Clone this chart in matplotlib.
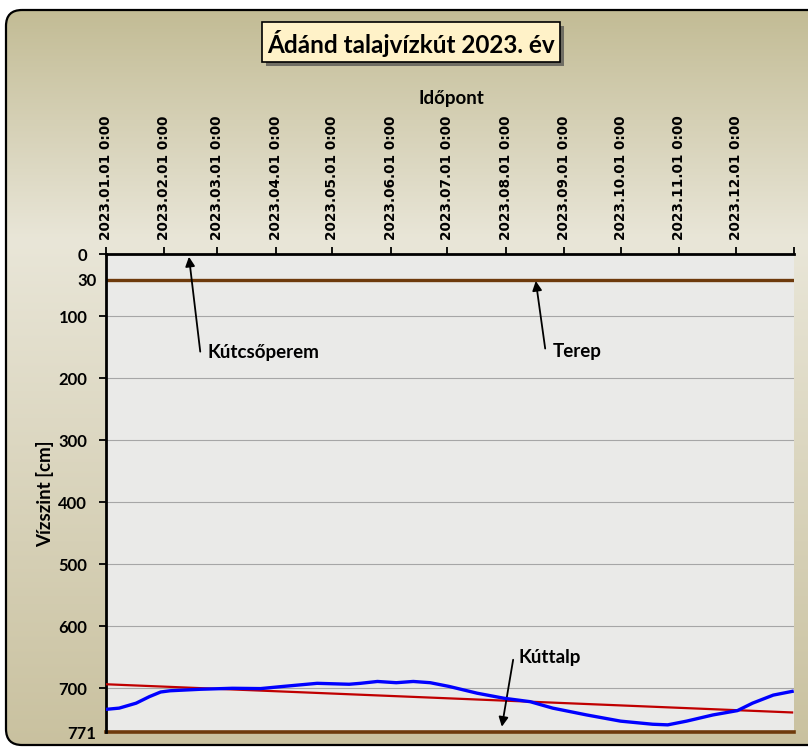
import matplotlib
matplotlib.use('Agg')
import matplotlib.pyplot as plt
import numpy as np
import pandas as pd
from matplotlib.colors import LinearSegmentedColormap
from matplotlib.patches import FancyBboxPatch, Rectangle

dates = ['2023-01-01', '2023-01-08', '2023-01-17', '2023-01-24', '2023-01-30',
         '2023-02-04', '2023-02-20', '2023-03-09', '2023-03-24', '2023-04-05',
         '2023-04-23', '2023-05-10', '2023-05-16', '2023-05-25', '2023-06-04',
         '2023-06-13', '2023-06-22', '2023-07-02', '2023-07-17', '2023-07-31',
         '2023-08-14', '2023-08-26', '2023-09-13', '2023-10-01', '2023-10-18',
         '2023-10-26', '2023-11-05', '2023-11-19', '2023-12-02', '2023-12-10',
         '2023-12-21', '2023-12-31']
water_level = [734, 732, 724, 713.5, 706,
               704, 701.6, 700, 700.5, 697,
               692, 693.5, 692, 689, 691,
               689, 691, 697, 708, 716,
               721.6, 732, 743, 753, 758,
               759, 753, 743, 736, 724,
               711, 705]

trend_dates = ['2023-01-01', '2023-12-31']
trend_level = [693.5, 739]

terep_level = 41
kuttalp_level = 771

month_ticks = list(pd.date_range('2023-01-01', '2023-12-01', freq='MS')) + [pd.Timestamp('2024-01-01')]
month_labels = [d.strftime('%Y.%m.%d') + ' 0:00' for d in month_ticks[:-1]] + ['']
y_ticks = [0, terep_level, 100, 200, 300, 400, 500, 600, 700, kuttalp_level]
y_labels = ['0', '30', '100', '200', '300', '400', '500', '600', '700', '771']

title = 'Ádánd talajvízkút 2023. év'
LABEL_FONT = ['Lato', 'DejaVu Sans']

fig = plt.figure(figsize=(8.08, 7.48), dpi=100)
fig.patch.set_facecolor('white')

# background panel with gradient
bg = fig.add_axes([0, 0, 1, 1], zorder=0)
bg.set_xlim(0, 808)
bg.set_ylim(748, 0)
bg.axis('off')
cmap = LinearSegmentedColormap.from_list(
    'panel', [(0, '#C1BA92'), (0.32, '#E9E6D8'), (1.0, '#C9C19F')])
grad = np.linspace(0, 1, 256).reshape(-1, 1)
im = bg.imshow(grad, cmap=cmap, extent=[0, 808, 748, 0], aspect='auto')
panel = FancyBboxPatch((6, 10), 830, 735, boxstyle='round,pad=0,rounding_size=16',
                       fc='none', ec='black', lw=1.6)
bg.add_patch(panel)
im.set_clip_path(panel)

# title box with shadow
bg.add_patch(Rectangle((266, 26), 298, 40, fc='#4a4a4a', ec='none', alpha=0.7))
bg.add_patch(Rectangle((262, 22), 298, 40, fc='#FFF2C8', ec='black', lw=1.2))
bg.text(411, 43, title, ha='center', va='center', fontsize=17.5, fontweight='bold',
        family=LABEL_FONT)

bg.text(451, 98, 'Időpont', ha='center', va='center', fontsize=13.5,
        fontweight='bold', family=LABEL_FONT)
bg.text(45, 494, 'Vízszint [cm]', ha='center', va='center', rotation=90,
        fontsize=13.5, fontweight='bold', family=LABEL_FONT)

ax = fig.add_axes([106 / 808, 1 - 732.3 / 748, 688 / 808, (732.3 - 254.3) / 748], zorder=1)
ax.set_facecolor('#EAEAE8')

x = pd.to_datetime(dates)
ax.plot(pd.to_datetime(trend_dates), trend_level, color='#C00000', lw=1.6, zorder=3)
ax.plot(x, water_level, color='#0000FF', lw=2.4, zorder=4)
ax.axhline(terep_level, color='#6E3A0C', lw=2.4, zorder=2)
ax.axhline(kuttalp_level, color='#6E3A0C', lw=2.6, zorder=2, clip_on=False)

ax.set_xlim(pd.Timestamp('2023-01-01'), pd.Timestamp('2024-01-01'))
ax.set_ylim(kuttalp_level, 0)
ax.set_xticks(month_ticks)
ax.set_xticklabels(month_labels, rotation=90, fontsize=9.8, fontweight='bold')
ax.xaxis.tick_top()
ax.tick_params(axis='x', direction='out', length=5, width=1.3, pad=5)
ax.set_yticks(y_ticks)
ax.set_yticklabels(y_labels, fontsize=12, fontweight='bold', family=LABEL_FONT)
ax.tick_params(axis='y', direction='out', length=5, width=1.3, pad=8.5)
# the "30" and "771" labels sit right against the axis
for tick, lab in zip(ax.yaxis.get_major_ticks(), y_labels):
    if lab in ('30', '771'):
        tick.set_pad(2)
        tick.tick1line.set_visible(False)
ax.grid(axis='y', color='#A6A6A6', lw=0.8)
ax.set_axisbelow(True)

for side in ['right', 'bottom']:
    ax.spines[side].set_visible(False)
ax.spines['top'].set_linewidth(2)
ax.spines['left'].set_linewidth(2)

arrow = dict(arrowstyle='-|>', color='black', lw=1.3, mutation_scale=14,
             shrinkA=0, shrinkB=0)
d = pd.Timestamp
ax.annotate('', xy=(d('2023-02-14'), 4), xytext=(d('2023-02-20'), 157), arrowprops=arrow)
ax.text(d('2023-02-24'), 158, 'Kútcsőperem', ha='left', va='center', fontsize=13.5,
        fontweight='bold', family=LABEL_FONT)
ax.annotate('', xy=(d('2023-08-17'), 43), xytext=(d('2023-08-22'), 152), arrowprops=arrow)
ax.text(d('2023-08-26'), 156, 'Terep', ha='left', va='center', fontsize=13.5,
        fontweight='bold', family=LABEL_FONT)
ax.annotate('', xy=(d('2023-07-30'), 762), xytext=(d('2023-08-05'), 654), arrowprops=arrow)
ax.text(d('2023-08-08'), 651, 'Kúttalp', ha='left', va='center', fontsize=13.5,
        fontweight='bold', family=LABEL_FONT)

plt.savefig('out.png', dpi=100)
